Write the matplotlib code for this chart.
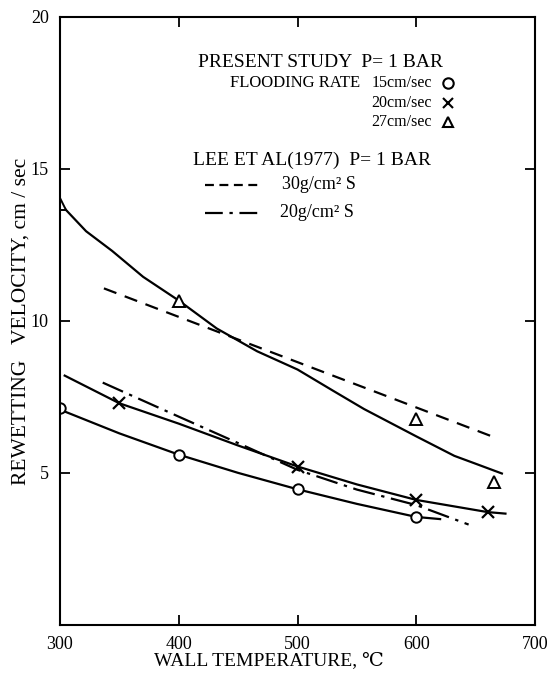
import matplotlib
matplotlib.use("Agg")
import matplotlib.pyplot as plt

plt.rcParams['font.family'] = ['Liberation Serif', 'DejaVu Serif']

# present study, flooding rate markers (wall temperature C, rewetting velocity cm/sec)
t_15 = [300, 400, 500, 600]
v_15 = [7.14, 5.6, 4.46, 3.55]
t_20 = [350, 500, 600, 660]
v_20 = [7.29, 5.21, 4.11, 3.71]
t_27 = [300, 400, 600, 665]
v_27 = [13.86, 10.67, 6.77, 4.70]

# fitted curves
curve15_t = [302, 350, 400, 450, 500, 550, 600, 620]
curve15_v = [7.05, 6.3, 5.6, 5.0, 4.46, 3.98, 3.55, 3.48]
curve20_t = [304, 350, 400, 450, 500, 550, 600, 660, 675]
curve20_v = [8.2, 7.29, 6.62, 5.9, 5.21, 4.62, 4.11, 3.71, 3.66]
curve27_t = [300, 322, 344, 370, 400, 432, 466, 500, 530, 556, 600, 632, 650, 672]
curve27_v = [13.86, 12.95, 12.3, 11.45, 10.67, 9.75, 9.0, 8.4, 7.7, 7.1, 6.2, 5.56, 5.3, 4.98]

# Lee et al (1977)
lee30_t = [337, 572, 667]
lee30_v = [11.07, 7.57, 6.15]
lee20_t = [336, 400, 450, 500, 550, 600, 644]
lee20_v = [7.97, 6.85, 5.98, 5.1, 4.45, 3.94, 3.3]

xticks = [300, 400, 500, 600, 700]
yticks = [5, 10, 15, 20]

fig = plt.figure(figsize=(5.5, 6.77), dpi=100)
ax = fig.add_axes([0.109, 0.077, 0.864, 0.898])

lw = 1.6
ax.plot(curve15_t, curve15_v, color='black', lw=lw)
ax.plot(curve20_t, curve20_v, color='black', lw=lw)
ax.plot(curve27_t, curve27_v, color='black', lw=lw)
ax.plot(lee30_t, lee30_v, color='black', lw=lw, linestyle=(0, (6, 4)))
ax.plot(lee20_t, lee20_v, color='black', lw=lw, linestyle=(0, (10, 3, 1.5, 3)))

ax.plot(t_15, v_15, 'o', ms=7.5, mfc='white', mec='black', mew=1.4, ls='none')
ax.plot(t_20, v_20, 'x', ms=8, mec='black', mew=1.6, ls='none')
ax.plot(t_27, v_27, '^', ms=8.5, mfc='white', mec='black', mew=1.4, ls='none')

ax.set_xlim(300, 700)
ax.set_ylim(0, 20)
ax.set_xticks(xticks)
ax.set_yticks(yticks)
ax.tick_params(direction='in', length=7, width=1.3, top=True, right=True,
               labelsize=13, pad=8)
for s in ax.spines.values():
    s.set_linewidth(1.5)

ax.set_xlabel('WALL TEMPERATURE, \u2103', fontsize=14)
ax.xaxis.set_label_coords(0.44, -0.045)
ax.set_ylabel('REWETTING   VELOCITY, cm / sec', fontsize=15.5)
ax.yaxis.set_label_coords(-0.062, 0.5)

# key block
def fx(px):
    return (px - 60) / 475.0

def fy(py):
    return (625 - py) / 608.0

tr = ax.transAxes
ax.text(fx(198), fy(63), 'PRESENT STUDY  P= 1 BAR', transform=tr, fontsize=14, va='center')
ax.text(fx(230), fy(83), 'FLOODING RATE', transform=tr, fontsize=12, va='center')
rate_labels = ['15cm/sec', '20cm/sec', '27cm/sec']
rate_rows = [83, 103, 122]
rate_marks = ['o', 'x', '^']
for lab, row, mk in zip(rate_labels, rate_rows, rate_marks):
    ax.text(fx(432), fy(row), lab, transform=tr, fontsize=11.5, va='center', ha='right')
    ax.plot([fx(448)], [fy(row)], mk, transform=tr, ms=7.5, mfc='white',
            mec='black', mew=1.5, clip_on=False)

ax.text(fx(193), fy(160), 'LEE ET AL(1977)  P= 1 BAR', transform=tr, fontsize=14, va='center')
ax.plot([fx(205), fx(260)], [fy(185), fy(185)], transform=tr, color='black', lw=lw,
        linestyle=(0, (4, 2.5)))
ax.text(fx(282), fy(185), '30g/cm\u00b2 S', transform=tr, fontsize=13, va='center')
ax.plot([fx(205), fx(262)], [fy(213), fy(213)], transform=tr, color='black', lw=lw,
        linestyle=(0, (8, 3, 1.5, 3)))
ax.text(fx(280), fy(213), '20g/cm\u00b2 S', transform=tr, fontsize=13, va='center')

fig.savefig('out.png', dpi=100)
